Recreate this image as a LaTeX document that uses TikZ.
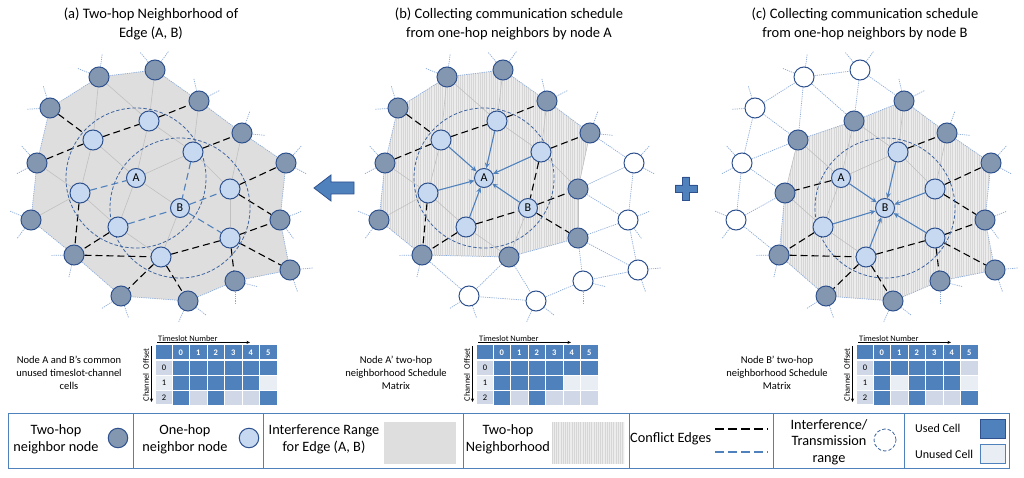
\documentclass[tikz,border=0pt]{standalone}
\usepackage{fontspec}
\setmainfont{Carlito}
\usetikzlibrary{arrows.meta,calc}
\definecolor{dkfill}{RGB}{132,151,176}
\definecolor{ltfill}{RGB}{198,217,240}
\definecolor{nbord}{RGB}{47,82,143}
\definecolor{edgegray}{RGB}{192,192,192}
\definecolor{eblue}{RGB}{79,129,189}
\definecolor{stubc}{RGB}{140,172,218}
\definecolor{polyc}{RGB}{222,222,222}
\definecolor{hatchbg}{RGB}{236,236,236}
\definecolor{hatchln}{RGB}{214,214,214}
\definecolor{usedc}{RGB}{79,129,189}
\definecolor{bandA}{RGB}{208,216,232}
\definecolor{bandB}{RGB}{233,237,244}
\definecolor{rngc}{RGB}{62,100,160}
\pgfdeclarelayer{bglayer}
\pgfdeclarelayer{polylayer}
\pgfdeclarelayer{edgelayer}
\pgfsetlayers{bglayer,polylayer,edgelayer,main}
\tikzset{
 nd/.style={circle, minimum size=20pt, inner sep=0pt, draw=nbord, line width=1pt},
 dk/.style={nd, fill=dkfill},
 lt/.style={nd, fill=ltfill},
 wt/.style={nd, fill=white},
 ab/.style={nd, fill=ltfill, minimum size=19pt, font=\fontsize{12}{12}\selectfont},
 ge/.style={draw=edgegray, line width=0.6pt},
 ke/.style={draw=black, line width=1.1pt, dash pattern=on 7pt off 4pt},
 be/.style={draw=eblue, line width=1.1pt, dash pattern=on 7pt off 4pt},
 de/.style={draw=stubc, line width=0.7pt, dash pattern=on 1.2pt off 1pt},
 ar/.style={draw=eblue, line width=1.1pt, -{Stealth[length=5.5pt,width=5pt]}},
 rng/.style={draw=rngc, line width=0.8pt, dash pattern=on 3.5pt off 2pt},
 ttl/.style={align=center, inner sep=0pt, font=\fontsize{14.5}{18.5}\selectfont},
 captxt/.style={align=center, inner sep=0pt, font=\fontsize{10.5}{13}\selectfont},
 lg/.style={align=center, inner sep=0pt, font=\fontsize{14.3}{17}\selectfont},
 lgs/.style={inner sep=0pt, font=\fontsize{12}{14}\selectfont},
 hdr/.style={inner sep=0pt, text=white, font=\fontsize{8.5}{9}\selectfont\bfseries},
 rl/.style={inner sep=0pt, font=\fontsize{8.5}{9}\selectfont},
 tstxt/.style={inner sep=0pt, font=\fontsize{8.4}{9}\selectfont},
 tsarr/.style={line width=0.5pt, -{Stealth[length=3.5pt,width=3pt]}},
}
\newcommand\nodesof[4]{\foreach \n in {#4} \node[#1] (#2\n) at ($(p\n)+(#3,0)$) {};}
\newcommand\abnodes[2]{\node[ab] (#1A) at ($(pA)+(#2,0)$) {A};\node[ab] (#1B) at ($(pB)+(#2,0)$) {B};}
\newcommand\edg[3]{\edef\edglist{#3}\foreach \u/\v in \edglist {\draw[#2] (#1\u) -- (#1\v);}}
\newcommand\hull{D3/D1,D1/D2,D2/D4,D4/D5,D5/D7,D7/D9,D9/D11,D11/D12,D12/D14,D14/D13,D13/D10,D10/D8,D8/D6,D6/D3}
\newcommand\stubs[1]{\foreach \n/\g in {D1/120,D2/92,D3/145,D4/65,D5/32,D6/170,D7/10,D8/195,D9/344,D10/219,D11/327,D12/308,D13/251,D14/284}{\foreach \d in {-38,38}{\pgfmathtruncatemacro\aa{mod(\g+\d+360,360)}\draw[de] (#1\n.\aa) -- ++(\aa:13pt);}}}
\newcommand\hatchlines[2]{\fill[hatchbg] (#1,40) rectangle (#2,330);\foreach \i in {0,...,140}{\draw[hatchln, line width=0.35pt] ({#1+2.2*\i},40) -- ({#1+2.2*\i},330);}}
\newcommand\cellfill[4]{\ifnum#2=1 \fill[usedc] ({16+17.5*#3},{15+15*#1}) rectangle ({33.5+17.5*#3},{30+15*#1});\else\fill[#4] ({16+17.5*#3},{15+15*#1}) rectangle ({33.5+17.5*#3},{30+15*#1});\fi}
\newcommand\schedm[6]{%
\begin{scope}[shift={(#2,#3)}]
 \fill[usedc] (0,0) rectangle (121,15);
 \fill[bandA] (0,15) rectangle (16,30);
 \fill[bandB] (0,30) rectangle (16,45);
 \fill[bandA] (0,45) rectangle (16,59);
 \foreach \v [count=\c from 0] in {#4} {\cellfill{0}{\v}{\c}{bandA}}
 \foreach \v [count=\c from 0] in {#5} {\cellfill{1}{\v}{\c}{bandB}}
 \foreach \v [count=\c from 0] in {#6} {\cellfill{2}{\v}{\c}{bandA}}
 \foreach \c in {0,...,5} \draw[white, line width=1pt] ({16+17.5*\c},0) -- ({16+17.5*\c},60);
 \draw[white, line width=1pt] (0,30) -- (121,30) (0,45) -- (121,45);
 \draw[white, line width=1.8pt] (0,15) -- (121,15);
 \foreach \k in {0,...,5} \node[hdr] (#1h\k) at ({24.75+17.5*\k},7.5) {\k};
 \foreach \r in {0,1,2} \node[rl] (#1r\r) at (8,{22.5+15*\r}) {\r};
 \node[tstxt, anchor=base west] (#1ts) at (2,-3.8) {Timeslot Number};
 \coordinate (#1tsa) at (1,-2.6); \coordinate (#1tsb) at (94,-2.6);
 \draw[tsarr] (#1tsa) -- (#1tsb);
 \node[tstxt, rotate=90] (#1co) at (-10,30) {Channel\enspace Offset};
 \coordinate (#1coa) at (-4.5,1); \coordinate (#1cob) at (-4.5,57);
 \draw[tsarr] (#1coa) -- (#1cob);
\end{scope}}
\begin{document}
\begin{tikzpicture}[x=1pt,y=-1pt]
\useasboundingbox (0,0) rectangle (1024,478);
\begin{pgfonlayer}{bglayer}
\fill[white] (0,0) rectangle (1024,478);
\end{pgfonlayer}
\foreach \n/\x/\y in {D1/99/77,D2/155/70,D3/50/108,D4/199/101,D5/242/133,D6/37/163,D7/286/163,D8/31/220,D9/280/220,D10/74/255,D11/290/270,D12/235/281,D13/121/296,D14/188/301,L1/93/140,L2/149/121,L3/193/152,L4/80/193,L5/230/189,L6/118/227,L7/230/238,L8/161/257,A/136/178,B/180/208} \coordinate (p\n) at (\x,\y);

% titles
\node[ttl] (ta) at (151,24) {(a) Two-hop Neighborhood of\\Edge (A, B)};
\node[ttl] (tb) at (509,24) {(b) Collecting communication schedule\\from one-hop neighbors by node A};
\node[ttl] (tc) at (865,24) {(c) Collecting communication schedule\\from one-hop neighbors by node B};

% ---------- panel a
\nodesof{dk}{a}{0}{D1,D2,D3,D4,D5,D6,D7,D8,D9,D10,D11,D12,D13,D14}
\nodesof{lt}{a}{0}{L1,L2,L3,L4,L5,L6,L7,L8}
\abnodes{a}{0}
\begin{pgfonlayer}{polylayer}
\fill[polyc] (aD3.center) -- (aD1.center) -- (aD2.center) -- (aD4.center) -- (aD5.center) -- (aD7.center) -- (aD9.center) -- (aD11.center) -- (aD12.center) -- (aD14.center) -- (aD13.center) -- (aD10.center) -- (aD8.center) -- (aD6.center) -- cycle;
\end{pgfonlayer}
\begin{pgfonlayer}{edgelayer}
\edg{a}{de}{\hull}
\stubs{a}
\edg{a}{ge}{D1/L1,D1/L2,D2/L2,L1/A,L1/L4,L2/A,A/L6,L2/L3,D4/L3,D5/L5,L3/L5,L3/A,A/B,D6/L4,D8/L4,L4/L6,L6/L8,B/L8,L5/L7}
\edg{a}{ke}{D3/L1,L1/L2,L2/D4,D6/L1,L3/D5,L5/D7,L5/D9,L4/D10,L6/D10,D10/L8,L8/L7,L7/D9,L7/D11,L7/D12,L8/D13,L8/D14}
\edg{a}{be}{L4/A,L3/B,B/L5,L6/B,B/L7}
\draw[rng] (aA) circle (70pt);
\draw[rng] (aB) circle (70pt);
\end{pgfonlayer}

% big arrow and plus
\fill[eblue, draw=nbord, line width=0.8pt] (314,188) -- (331,175) -- (331,182) -- (354,182) -- (354,194) -- (331,194) -- (331,201) -- cycle;
\fill[eblue, draw=nbord, line width=0.8pt] (675,185) -- (682.5,185) -- (682.5,177) -- (689.5,177) -- (689.5,185) -- (697,185) -- (697,192) -- (689.5,192) -- (689.5,200) -- (682.5,200) -- (682.5,192) -- (675,192) -- cycle;

% ---------- panel b
\nodesof{dk}{b}{348}{D1,D2,D3,D4,D5,D6,D8,D10,L5,L7,L8}
\nodesof{lt}{b}{348}{L1,L2,L3,L4,L6}
\nodesof{wt}{b}{348}{D7,D9,D11,D12,D13,D14}
\abnodes{b}{348}
\begin{pgfonlayer}{polylayer}
\begin{scope}
\clip (bD3.center) -- (bD1.center) -- (bD2.center) -- (bD4.center) -- (bD5.center) -- (bL5.center) -- (bL7.center) -- (bL8.center) -- (bD10.center) -- (bD8.center) -- (bD6.center) -- cycle;
\hatchlines{370}{600}
\end{scope}
\end{pgfonlayer}
\begin{pgfonlayer}{edgelayer}
\edg{b}{de}{\hull}
\edg{b}{de}{L5/D7,L5/D9,L7/D9,L7/D11,L7/D12,L8/D13,L8/D14,D10/L8,L8/L7}
\stubs{b}
\edg{b}{ge}{D1/L1,D1/L2,D2/L2,L1/L4,L2/L3,D4/L3,D5/L5,L3/L5,D6/L4,D8/L4,L4/L6,L6/L8,B/L8,L5/L7}
\edg{b}{ke}{D3/L1,L1/L2,L2/D4,D6/L1,L3/D5,L3/B,B/L5,L6/B,B/L7,L4/D10,L6/D10}
\draw[rng] (bA) circle (70pt);
\end{pgfonlayer}
\edg{b}{ar}{L1/A,L2/A,L3/A,L4/A,L6/A,B/A}

% ---------- panel c
\nodesof{dk}{c}{705}{L1,L2,L4,D4,D5,D7,D9,D10,D11,D12,D13,D14}
\nodesof{lt}{c}{705}{L3,L5,L6,L7,L8}
\nodesof{wt}{c}{705}{D1,D2,D3,D6,D8}
\abnodes{c}{705}
\begin{pgfonlayer}{polylayer}
\begin{scope}
\clip (cL1.center) -- (cL2.center) -- (cD4.center) -- (cD5.center) -- (cD7.center) -- (cD9.center) -- (cD11.center) -- (cD12.center) -- (cD14.center) -- (cD13.center) -- (cD10.center) -- (cL4.center) -- cycle;
\hatchlines{770}{1000}
\end{scope}
\end{pgfonlayer}
\begin{pgfonlayer}{edgelayer}
\edg{c}{de}{\hull}
\edg{c}{de}{D1/L1,D1/L2,D2/L2,D3/L1,D6/L1,D6/L4,D8/L4,L1/L2,L2/D4,L4/D10}
\stubs{c}
\edg{c}{ge}{L1/A,L2/A,L2/L3,D4/L3,D5/L5,L3/L5,L4/L6,A/L6,L6/L8,L5/L7,L3/A,L1/L4}
\edg{c}{ke}{L3/D5,L5/D7,L5/D9,A/L4,L6/D10,D10/L8,L8/L7,L7/D9,L7/D11,L7/D12,L8/D13,L8/D14}
\draw[rng] (cB) circle (70pt);
\end{pgfonlayer}
\edg{c}{ar}{L3/B,L5/B,L6/B,L7/B,L8/B,A/B}

% ---------- matrices
\node[captxt] (acap) at (69,373) {Node A and B’s common\\unused timeslot-channel\\cells};
\schedm{ma}{156}{345}{1,1,1,1,1,1}{1,1,1,1,1,0}{1,0,1,0,0,1}
\node[captxt] (bcap) at (396,373) {Node A’ two-hop\\neighborhood Schedule\\Matrix};
\schedm{mb}{477}{345}{1,1,1,1,1,1}{1,1,1,1,0,0}{1,0,1,0,0,0}
\node[captxt] (ccap) at (777,373) {Node B’ two-hop\\neighborhood Schedule\\Matrix};
\schedm{mc}{857}{345}{1,1,1,1,1,0}{1,0,1,1,1,0}{1,0,1,0,0,1}

% ---------- legend
\draw[eblue, line width=0.9pt] (8,413) rectangle (1009,468);
\foreach \x in {133,263,463,629,773,904} \draw[eblue, line width=0.9pt] (\x,413) -- (\x,468);
\node[lg] (l1) at (56,439) {Two-hop\\neighbor node};
\node[dk, minimum size=19.5pt] (l1c) at (118,438) {};
\node[lg] (l2) at (185,439) {One-hop\\neighbor node};
\node[lt, minimum size=19.5pt] (l2c) at (249,438) {};
\node[lg] (l3) at (324,439) {Interference Range\\for Edge (A, B)};
\fill[polyc] (384,422) rectangle (456,464);
\node[lg] (l4) at (508,439) {Two-hop\\Neighborhood};
\begin{scope}
\clip (552,422) rectangle (624,464);
\fill[hatchbg] (552,422) rectangle (624,464);
\foreach \i in {0,...,33} \draw[hatchln, line width=0.35pt] ({552+2.2*\i},422) -- ({552+2.2*\i},464);
\end{scope}
\node[lg, anchor=west] (l5) at (630,439) {Conflict Edges};
\coordinate (l5a) at (715,429); \coordinate (l5b) at (768,429);
\coordinate (l5c) at (715,452); \coordinate (l5d) at (768,452);
\draw[ke, line width=1.2pt, dash pattern=on 9pt off 4pt] (l5a) -- (l5b);
\draw[be, line width=1.2pt, dash pattern=on 9pt off 4pt] (l5c) -- (l5d);
\node[lg, font=\fontsize{14.3}{16.5}\selectfont] (l6) at (829,442) {Interference/\\Transmission\\range};
\node[circle, minimum size=22pt, inner sep=0pt, rng] (l6c) at (885,440) {};
\node[lgs, anchor=base west] (l7) at (915,432) {Used Cell};
\fill[usedc, draw=nbord, line width=0.6pt] (980,419) rectangle (1005,438);
\node[lgs, anchor=base west] (l8) at (915,458) {Unused Cell};
\fill[bandB, draw=eblue, line width=0.6pt] (980,444) rectangle (1005,463);
\end{tikzpicture}
\end{document}
